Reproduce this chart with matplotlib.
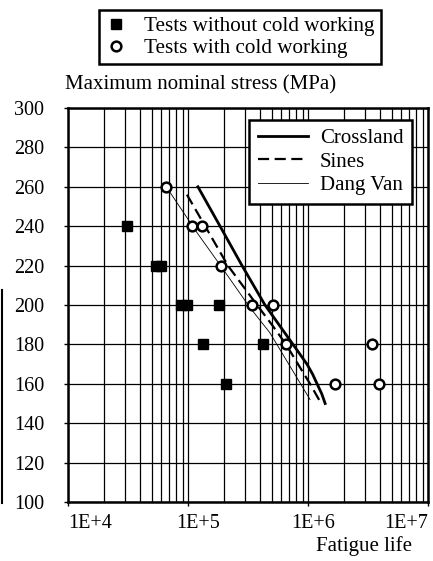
import numpy as np
import matplotlib
matplotlib.use('Agg')
import matplotlib.pyplot as plt
from matplotlib.lines import Line2D
from matplotlib.ticker import LogLocator, NullFormatter
import matplotlib.transforms as mtransforms

plt.rcParams['font.family'] = ['Liberation Serif', 'DejaVu Serif']

# Test points
sq_life = [3.1e4, 5.4e4, 6.0e4, 8.7e4, 9.9e4, 1.82e5, 1.33e5, 4.2e5, 2.07e5]
sq_stress = [240, 220, 220, 200, 200, 200, 180, 180, 160]
circ_life = [6.6e4, 1.09e5, 1.31e5, 1.87e5, 3.4e5, 5.1e5, 6.6e5, 3.4e6, 1.68e6, 3.9e6]
circ_stress = [260, 240, 240, 220, 200, 200, 180, 180, 160, 160]

# Criteria curves
cross_life = [1.21e5, 1.85e5, 2.82e5, 4.38e5, 5.73e5, 7.5e5, 9.8e5, 1.09e6, 1.19e6, 1.30e6, 1.39e6]
cross_stress = [260, 240, 220, 200, 190, 180, 170, 165, 160, 155, 150]
sines_life = [9.8e4, 1.39e5, 2.15e5, 3.76e5, 5.0e5, 6.56e5, 8.25e5, 1.04e6, 1.26e6]
sines_stress = [256, 240, 220, 200, 190, 180, 170, 160, 151]
dv_life = [6.6e4, 1.18e5, 1.97e5, 3.3e5, 4.8e5, 1.04e6]
dv_stress = [260, 237, 218, 198.5, 186, 152]

xticks = [1e4, 1e5, 1e6, 1e7]
xlabels = ['1E+4', '1E+5', '1E+6', '1E+7']
yticks = np.arange(100, 301, 20)

W, H = 433, 561
fig = plt.figure(figsize=(W / 100, H / 100), dpi=100)
ax = fig.add_axes([68 / W, 1 - 502 / H, (428 - 68) / W, (502 - 108) / H])

ax.set_xscale('log')
ax.set_xlim(1e4, 1e7)
ax.set_ylim(100, 300)
ax.set_yticks(yticks)
ax.set_xticks(xticks)
ax.set_xticklabels(xlabels)
ax.xaxis.set_minor_locator(LogLocator(base=10, subs=np.arange(2, 10), numticks=20))
ax.xaxis.set_minor_formatter(NullFormatter())
ax.grid(True, which='both', axis='x', color='black', lw=0.9)
ax.grid(True, which='major', axis='y', color='black', lw=0.9)
ax.tick_params(axis='both', which='major', direction='out', length=3, width=1,
               labelsize=14.5, color='black')
ax.tick_params(axis='y', pad=14)
ax.tick_params(axis='x', pad=6)
ax.tick_params(axis='x', which='minor', length=0)
for s in ax.spines.values():
    s.set_linewidth(1.8)

# shift x tick labels like the original
offsets = [0, 10, 5, 0]
aligns = ['left', 'center', 'center', 'right']
for lab, dx, ha in zip(ax.get_xticklabels(), offsets, aligns):
    lab.set_ha(ha)
    lab.set_transform(lab.get_transform() +
                      mtransforms.ScaledTranslation(dx / 100, 0, fig.dpi_scale_trans))

l1, = ax.plot(cross_life, cross_stress, color='black', lw=2.0, label='Crossland')
l2, = ax.plot(sines_life, sines_stress, color='black', lw=1.6, dashes=(5, 2.5), label='Sines')
l3, = ax.plot(dv_life, dv_stress, color='black', lw=0.6, label='Dang Van')

ax.plot(sq_life, sq_stress, 's', color='black', ms=7, zorder=5)
ax.plot(circ_life, circ_stress, 'o', mfc='white', mec='black', mew=1.8, ms=7, zorder=5)

leg = ax.legend(handles=[l1, l2, l3], loc='upper right',
                bbox_to_anchor=(412 / W, 1 - 120 / H), bbox_transform=fig.transFigure,
                borderaxespad=0, fancybox=False, framealpha=1, edgecolor='black',
                fontsize=15, handlelength=2.4, borderpad=0.4, labelspacing=0.2,
                handletextpad=0.6)
leg.get_frame().set_linewidth(1.8)

h1 = Line2D([], [], ls='none', marker='s', color='black', ms=7)
h2 = Line2D([], [], ls='none', marker='o', mfc='white', mec='black', mew=1.8, ms=7)
fleg = fig.legend(handles=[h1, h2], labels=['Tests without cold working', 'Tests with cold working'],
                  loc='upper center', bbox_to_anchor=(240 / W, 1 - 10 / H), borderaxespad=0,
                  fancybox=False, framealpha=1, edgecolor='black', fontsize=15.2,
                  handlelength=1.0, borderpad=0.3, labelspacing=0.1, handletextpad=0.8)
fleg.get_frame().set_linewidth(1.8)

fig.text(65 / W, 1 - 85 / H, 'Maximum nominal stress (MPa)', ha='left', va='center', fontsize=15)
fig.text(412 / W, 1 - 546 / H, 'Fatigue life', ha='right', va='center', fontsize=15)

# scan edge on the left border
fig.add_artist(Line2D([2 / W, 2 / W], [1 - 503 / H, 1 - 290 / H], color='black', lw=1.5))

fig.savefig('out.png', dpi=100)
